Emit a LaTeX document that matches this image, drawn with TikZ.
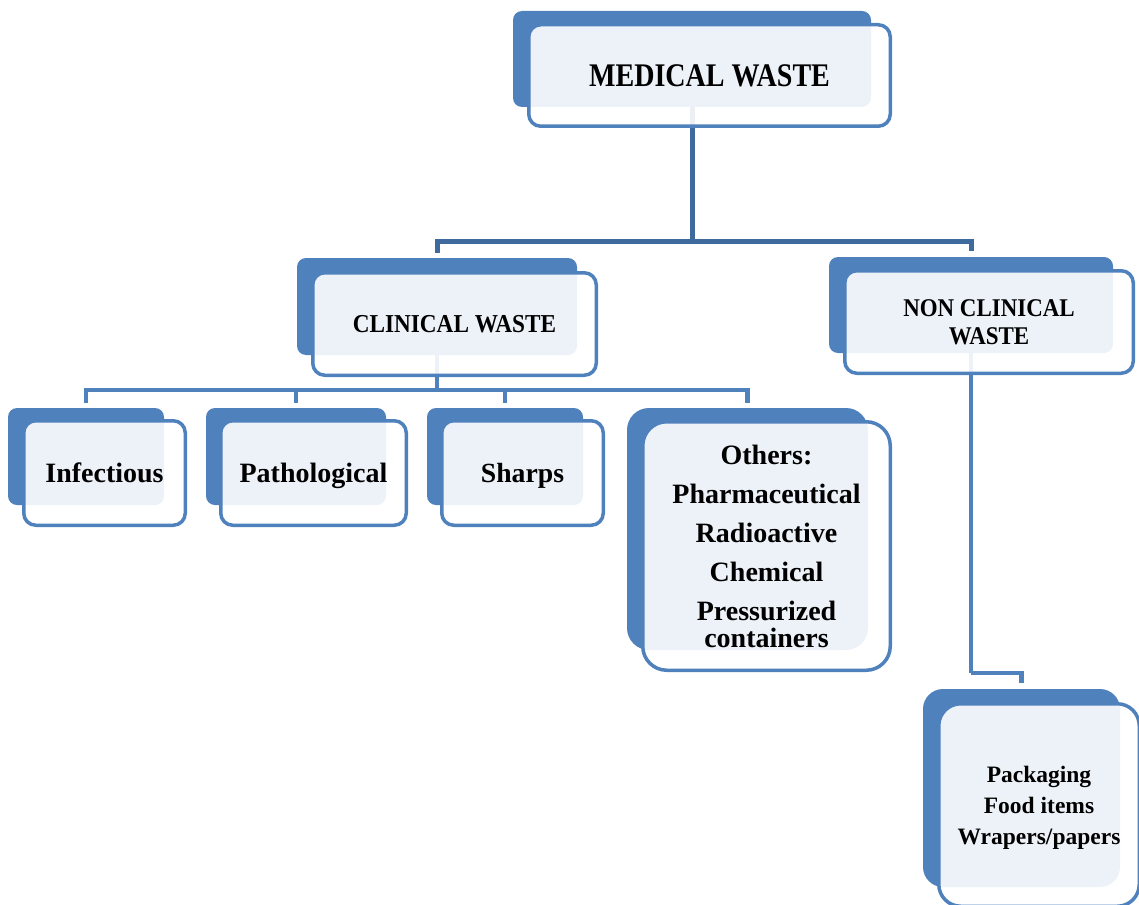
\documentclass[tikz,border=0pt]{standalone}
\usepackage{fontspec}
\setmainfont{Liberation Serif}
\newfontfamily\medfont{Liberation Serif}[FakeStretch=0.85]
\newfontfamily\clinfont{Liberation Serif}[FakeStretch=0.9]
\pgfdeclarelayer{conn}
\pgfdeclarelayer{back}
\pgfsetlayers{conn,back,main}
\definecolor{mblue}{HTML}{4F81BD}
\definecolor{dblue}{HTML}{3E6A9E}
\tikzset{
  backbox/.style={rectangle, rounded corners=9pt, fill=mblue, draw=none, inner sep=0pt},
  frontbox/.style={rectangle, rounded corners=12pt, fill=white, fill opacity=0.9, text opacity=1,
    draw=mblue, draw opacity=1, line width=3.5pt, inner sep=0pt, align=center, text=black},
  oneline/.style={text depth=0pt},
  topconn/.style={draw=dblue, line width=5pt},
  subconn/.style={draw=mblue, line width=4.5pt},
}
\begin{document}
\begin{tikzpicture}[x=1pt, y=-1pt]
\useasboundingbox (0,0) rectangle (1139,904);
\clip (0,0) rectangle (1139,904);
% back boxes
\begin{pgfonlayer}{back}
\node[backbox, minimum width=358pt, minimum height=96pt] (medb) at (692,59) {};
\node[backbox, minimum width=280pt, minimum height=97pt] (clinb) at (437,306.5) {};
\node[backbox, minimum width=284pt, minimum height=96pt] (noncb) at (971,305) {};
\node[backbox, minimum width=156pt, minimum height=97pt] (infb) at (86,456.5) {};
\node[backbox, minimum width=180pt, minimum height=97pt] (pathb) at (296,456.5) {};
\node[backbox, minimum width=156pt, minimum height=97pt] (sharpb) at (505,456.5) {};
\node[backbox, rounded corners=22pt, minimum width=241pt, minimum height=242pt] (othb) at (747.5,529) {};
\node[backbox, rounded corners=20pt, minimum width=197pt, minimum height=198pt] (packb) at (1021.5,788) {};
\end{pgfonlayer}
% front boxes
\node[frontbox, oneline, minimum width=361.5pt, minimum height=101.5pt, font=\medfont\bfseries\fontsize{33}{34}\selectfont] (med) at (709.5,75.5) {MEDICAL WASTE};
\node[frontbox, oneline, minimum width=283.5pt, minimum height=102.5pt, font=\clinfont\bfseries\fontsize{25.8}{28}\selectfont] (clin) at (454.5,324) {CLINICAL WASTE};
\node[frontbox, minimum width=288.5pt, minimum height=102.5pt, font=\clinfont\bfseries\fontsize{25.5}{28}\selectfont] (nonc) at (989,322) {NON CLINICAL\\WASTE};
\node[frontbox, oneline, minimum width=161.5pt, minimum height=104.5pt, font=\bfseries\fontsize{28}{30}\selectfont] (inf) at (104.5,473) {Infectious};
\node[frontbox, oneline, minimum width=185.5pt, minimum height=104.5pt, font=\bfseries\fontsize{28}{30}\selectfont] (path) at (313.5,473) {Pathological};
\node[frontbox, oneline, minimum width=161.5pt, minimum height=104.5pt, font=\bfseries\fontsize{27.7}{30}\selectfont] (sharp) at (522.5,473) {Sharps};
\node[frontbox, rounded corners=24pt, minimum width=247.5pt, minimum height=248.5pt, font=\bfseries\fontsize{28}{27}\selectfont] (oth) at (766.5,546)
  {Others:\\[12pt]Pharmaceutical\\[12pt]Radioactive\\[12pt]Chemical\\[12pt]Pressurized\\containers};
\node[frontbox, rounded corners=22pt, minimum width=200.5pt, minimum height=202.5pt] (pack) at (1039,805) {};
\node[align=center, inner sep=0pt, font=\bfseries\fontsize{23.5}{31}\selectfont] (packt) at (1039,808)
  {Packaging\\Food items\\Wrapers/papers};
% connectors
\begin{pgfonlayer}{conn}
\coordinate (j1) at (692,241);
\draw[topconn] (medb.center) -- (j1);
\draw[topconn] (j1) -| ([yshift=5pt]clinb.north);
\draw[topconn] (j1) -| ([yshift=6pt]noncb.north);
\coordinate (j2) at (437,390);
\draw[subconn] (clinb.center) -- (j2);
\foreach \n in {infb,pathb,sharpb,othb}
  \draw[subconn] (j2) -| ([yshift=5pt]\n.north);
\coordinate (j3) at (971,673);
\draw[subconn] (noncb.center) -- (j3);
\draw[subconn] (j3) -| ([yshift=6pt]packb.north);
\end{pgfonlayer}
\end{tikzpicture}
\end{document}
